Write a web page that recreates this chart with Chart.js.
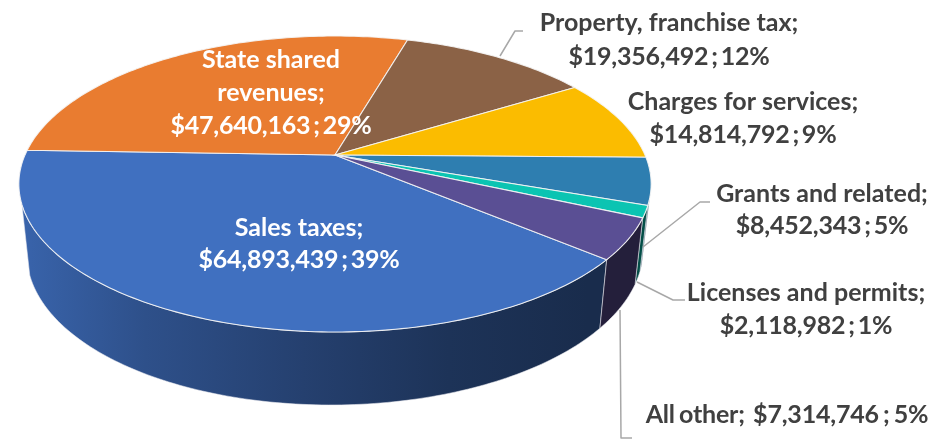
<!DOCTYPE html>
<html>
<head>
<meta charset="utf-8">
<style>html,body{margin:0;padding:0;background:#fff}canvas{display:block}</style>
<script src="https://cdn.jsdelivr.net/npm/chart.js@4"></script>
</head>
<body>
<canvas id="c" width="944" height="439"></canvas>
<script>
const categories = ["Sales taxes", "State shared revenues", "Property, franchise tax", "Charges for services", "Grants and related", "Licenses and permits", "All other"];
const amounts = [64893439, 47640163, 19356492, 14814792, 8452343, 2118982, 7314746];
const percents = [39, 29, 12, 9, 5, 1, 5];
const colors = ["#4070C0", "#E97C30", "#8B6246", "#FBBC00", "#2E7EB0", "#0BC4B2", "#5A4F94"];

// text blocks: line-breaks of each category label and where the block sits
const labelBlocks = [
  {i:0, x:299, y:[228,260], color:"#fff", lines:(n,v)=>["Sales taxes;", v]},
  {i:1, x:271, y:[60,93,126], color:"#fff", lines:(n,v)=>["State shared","revenues;", v]},
  {i:2, x:669, y:[23,57], color:"#404040", lines:(n,v)=>[n+";", v]},
  {i:3, x:743, y:[102,135], color:"#404040", lines:(n,v)=>[n+";", v]},
  {i:4, x:822, y:[194,226], color:"#404040", lines:(n,v)=>[n+";", v]},
  {i:5, x:806, y:[293,326], color:"#404040", lines:(n,v)=>[n+";", v]},
  {i:6, x:787, y:[415], color:"#404040", lines:(n,v)=>[n+";  "+v]}
];
const leaders = [
  [[500,56],[515,31],[523,31]],
  [[643,247],[700,202],[710,202]],
  [[637,282],[673,300],[685,300]],
  [[620,310],[621,438],[632,438]]
];

// projection of the pie disc into the tilted perspective view
const VIEW = {ax:2.0, by:0.918, k:0.196, wallFrom:17, wallTo:161, inset:0.975};
const rad = d => d*Math.PI/180;
const wallShade = [[0,0.9],[0.2,0.72],[0.45,0.58],[0.68,0.46],[0.9,0.4],[1,0.4]];

function rim(arc, t){
  const u=Math.cos(t), v=Math.sin(t), w=1-VIEW.k*v, R=arc.outerRadius;
  return {x:arc.x+VIEW.ax*R*u/w, y:arc.y+VIEW.by*R*v/w, u, v};
}
function lowerRim(arc, t){
  const p=rim(arc,t);
  return {x:arc.x+(p.x-arc.x)*VIEW.inset, y:p.y+66+7*p.v-2.5*p.u};
}
function shadeGradient(ctx, arc, hex){
  const x0=arc.x-VIEW.ax*arc.outerRadius*1.02, x1=arc.x+VIEW.ax*arc.outerRadius*1.02;
  const g=ctx.createLinearGradient(x0,0,x1,0);
  const n=parseInt(hex.slice(1),16), r=n>>16, gr=(n>>8)&255, b=n&255;
  wallShade.forEach(([s,f])=>g.addColorStop(s,`rgb(${r*f|0},${gr*f|0},${b*f|0})`));
  return g;
}

const pie3d = {
  id:'pie3d',
  beforeDatasetDraw(chart,args){
    const ctx=chart.ctx, arcs=args.meta.data;
    // side walls
    arcs.forEach(a=>{
      [0,360].forEach(off=>{
        const s=Math.max(a.startAngle, rad(VIEW.wallFrom+off)), e=Math.min(a.endAngle, rad(VIEW.wallTo+off));
        if(e<=s) return;
        const n=Math.max(2,Math.ceil((e-s)/rad(1)));
        ctx.beginPath();
        for(let j=0;j<=n;j++){const p=rim(a,s+(e-s)*j/n); j?ctx.lineTo(p.x,p.y):ctx.moveTo(p.x,p.y);}
        for(let j=n;j>=0;j--){const p=lowerRim(a,s+(e-s)*j/n); ctx.lineTo(p.x,p.y);}
        ctx.closePath();
        ctx.fillStyle=shadeGradient(ctx,a,a.options.backgroundColor);
        ctx.fill();
        ctx.strokeStyle="rgba(235,235,240,0.55)";
        ctx.lineWidth=1;
        ctx.stroke();
      });
    });
    // top face
    arcs.forEach(a=>{
      const s=a.startAngle,e=a.endAngle,n=Math.max(2,Math.ceil((e-s)/rad(1)));
      ctx.beginPath();
      ctx.moveTo(a.x,a.y);
      for(let j=0;j<=n;j++){const p=rim(a,s+(e-s)*j/n); ctx.lineTo(p.x,p.y);}
      ctx.closePath();
      ctx.fillStyle=a.options.backgroundColor;
      ctx.fill();
      ctx.strokeStyle="rgba(245,245,245,0.9)";
      ctx.lineWidth=1.1;
      ctx.stroke();
    });
    return false;
  },
  afterDatasetsDraw(chart){
    const ctx=chart.ctx;
    ctx.save();
    ctx.strokeStyle="#A8A8A8"; ctx.lineWidth=1.5; ctx.lineJoin="round";
    leaders.forEach(l=>{ctx.beginPath();l.forEach((p,i)=>i?ctx.lineTo(p[0],p[1]):ctx.moveTo(p[0],p[1]));ctx.stroke();});
    ctx.font='700 25px Lato, "Open Sans", sans-serif';
    ctx.textAlign="center"; ctx.textBaseline="middle";
    labelBlocks.forEach(b=>{
      const v="$"+amounts[b.i].toLocaleString("en-US")+" ; "+percents[b.i]+"%";
      const lines=b.lines(categories[b.i],v);
      ctx.fillStyle=b.color;
      lines.forEach((t,k)=>{
        const hasValue=t.includes("$");
        ctx.wordSpacing = hasValue ? (lines.length===1 ? "-1.7px" : "-3px") : "0px";
        ctx.letterSpacing = hasValue ? "-0.2px" : "0px";
        ctx.fillText(t,b.x,b.y[k]);
      });
    });
    ctx.restore();
  }
};

new Chart(document.getElementById('c'),{
  type:'pie',
  data:{labels:categories,datasets:[{data:amounts,backgroundColor:colors,borderWidth:0}]},
  options:{
    responsive:false,animation:false,rotation:130,
    layout:{padding:{left:0,right:274,top:0,bottom:129}},
    plugins:{legend:{display:false},tooltip:{enabled:false}}
  },
  plugins:[pie3d]
});
</script>
</body>
</html>
